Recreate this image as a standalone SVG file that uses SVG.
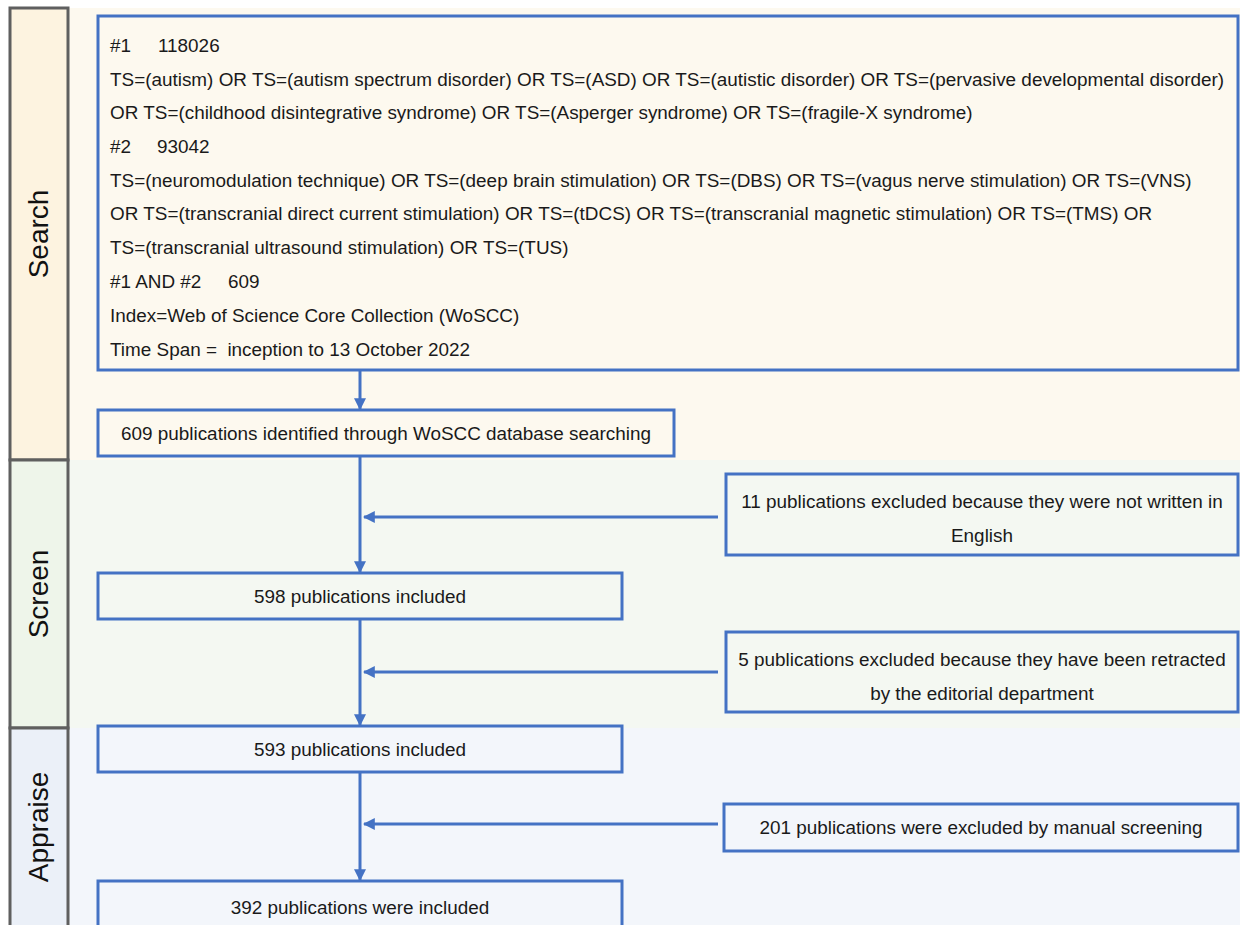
<svg xmlns="http://www.w3.org/2000/svg" width="1242" height="925" viewBox="0 0 1242 925">
<defs>
<style>
.lab{stroke:#5f5f5f;stroke-width:3}
.box{stroke:#4472c4;stroke-width:3}
.t{font-family:"Liberation Sans",Arial,sans-serif;font-size:18.9px;fill:#1a1a1a}
.c{text-anchor:middle}
.side{font-family:"Liberation Sans",Arial,sans-serif;font-size:28px;fill:#111;text-anchor:middle}
.ln{stroke:#4472c4;stroke-width:3;fill:none}
</style>
<marker id="ah" viewBox="0 0 10 10" refX="9" refY="5" markerWidth="4" markerHeight="4" orient="auto" markerUnits="strokeWidth">
<path d="M0,0 L10,5 L0,10 z" fill="#4472c4"/>
</marker>
</defs>
<rect width="1242" height="925" fill="#ffffff"/>
<!-- bands -->
<rect x="68" y="8" width="1172" height="452" fill="#fdf9ef"/>
<rect x="68" y="460" width="1172" height="268" fill="#f4f8f2"/>
<rect x="68" y="728" width="1172" height="200" fill="#f3f6fb"/>
<g id="lane-search">
<rect x="10" y="8" width="58" height="452" fill="#fdf3e0" class="lab"/>
<text class="side" transform="translate(48,234) rotate(-90)">Search</text>
</g>
<g id="lane-screen">
<rect x="10" y="460" width="58" height="268" fill="#eef5ea" class="lab"/>
<text class="side" transform="translate(48,594) rotate(-90)">Screen</text>
</g>
<g id="lane-appraise">
<rect x="10" y="728" width="58" height="200" fill="#ebf0f8" class="lab"/>
<text class="side" transform="translate(48,827) rotate(-90)">Appraise</text>
</g>
<g id="connectors">
<line class="ln" x1="360" y1="370" x2="360" y2="409" marker-end="url(#ah)"/>
<line class="ln" x1="360" y1="456" x2="360" y2="572" marker-end="url(#ah)"/>
<line class="ln" x1="718" y1="517" x2="364" y2="517" marker-end="url(#ah)"/>
<line class="ln" x1="360" y1="619" x2="360" y2="725" marker-end="url(#ah)"/>
<line class="ln" x1="718" y1="672" x2="364" y2="672" marker-end="url(#ah)"/>
<line class="ln" x1="360" y1="772" x2="360" y2="880" marker-end="url(#ah)"/>
<line class="ln" x1="718" y1="824" x2="364" y2="824" marker-end="url(#ah)"/>
</g>
<g id="search-query">
<rect x="98" y="16" width="1140" height="354" fill="#fdf9ef" class="box"/>
<text class="t" x="110" y="52">#1<tspan x="158">118026</tspan></text>
<text class="t" x="110" y="86">TS=(autism) OR TS=(autism spectrum disorder) OR TS=(ASD) OR TS=(autistic disorder) OR TS=(pervasive developmental disorder)</text>
<text class="t" x="110" y="119">OR TS=(childhood disintegrative syndrome) OR TS=(Asperger syndrome) OR TS=(fragile-X syndrome)</text>
<text class="t" x="110" y="153">#2<tspan x="157">93042</tspan></text>
<text class="t" x="110" y="187">TS=(neuromodulation technique) OR TS=(deep brain stimulation) OR TS=(DBS) OR TS=(vagus nerve stimulation) OR TS=(VNS)</text>
<text class="t" x="110" y="220">OR TS=(transcranial direct current stimulation) OR TS=(tDCS) OR TS=(transcranial magnetic stimulation) OR TS=(TMS) OR</text>
<text class="t" x="110" y="254">TS=(transcranial ultrasound stimulation) OR TS=(TUS)</text>
<text class="t" x="110" y="288">#1 AND #2<tspan x="228">609</tspan></text>
<text class="t" x="110" y="322">Index=Web of Science Core Collection (WoSCC)</text>
<text class="t" x="110" y="356" xml:space="preserve">Time Span =  inception to 13 October 2022</text>
</g>
<g id="identified">
<rect x="98" y="410" width="576" height="46" fill="#fdf9ef" class="box"/>
<text class="t c" x="386" y="440">609 publications identified through WoSCC database searching</text>
</g>
<g id="excl-english">
<rect x="726" y="474" width="512" height="81" fill="#f4f8f2" class="box"/>
<text class="t c" x="982" y="508">11 publications excluded because they were not written in</text>
<text class="t c" x="982" y="542">English</text>
</g>
<g id="incl-598">
<rect x="98" y="573" width="524" height="46" fill="#f4f8f2" class="box"/>
<text class="t c" x="360" y="603">598 publications included</text>
</g>
<g id="excl-retracted">
<rect x="726" y="632" width="512" height="80" fill="#f4f8f2" class="box"/>
<text class="t c" x="982" y="666">5 publications excluded because they have been retracted</text>
<text class="t c" x="982" y="700">by the editorial department</text>
</g>
<g id="incl-593">
<rect x="98" y="726" width="524" height="46" fill="#f3f6fb" class="box"/>
<text class="t c" x="360" y="756">593 publications included</text>
</g>
<g id="excl-manual">
<rect x="724" y="804" width="514" height="47" fill="#f3f6fb" class="box"/>
<text class="t c" x="981" y="834">201 publications were excluded by manual screening</text>
</g>
<g id="incl-392">
<rect x="98" y="881" width="524" height="50" fill="#f3f6fb" class="box"/>
<text class="t c" x="360" y="914">392 publications were included</text>
</g>
</svg>
